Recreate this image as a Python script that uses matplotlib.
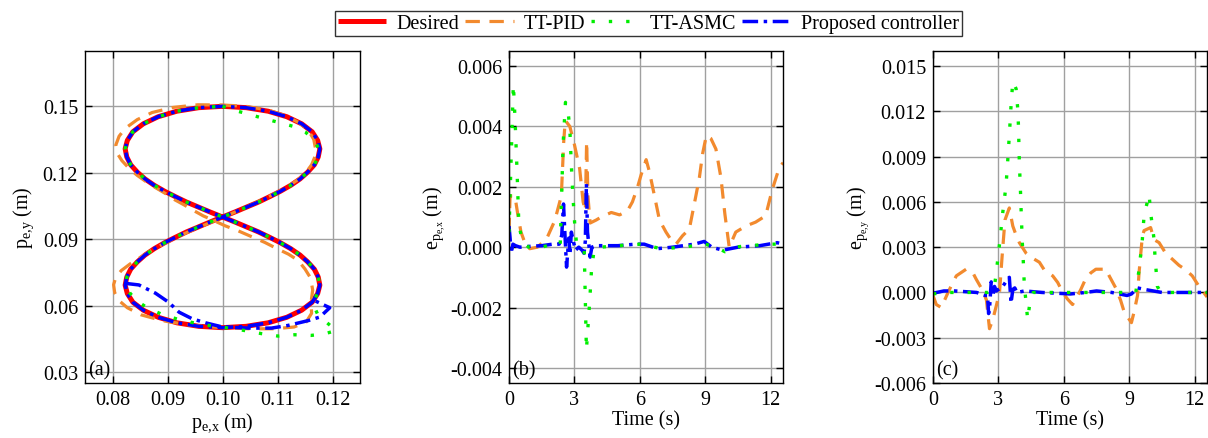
import matplotlib
matplotlib.use("Agg")
import matplotlib.pyplot as plt
from matplotlib.lines import Line2D
from matplotlib.ticker import FormatStrFormatter

plt.rcParams['font.family'] = ['Liberation Serif', 'DejaVu Serif']
plt.rcParams['mathtext.fontset'] = 'custom'
plt.rcParams['mathtext.rm'] = 'Liberation Serif'
plt.rcParams['mathtext.it'] = 'Liberation Serif:italic'
plt.rcParams['axes.unicode_minus'] = False
plt.rcParams['font.size'] = 14.5

# ---------------- data: panel (a) trajectories ----------------
des_x = [0.1000, 0.1043, 0.1083, 0.1117, 0.1144, 0.1163, 0.1173, 0.1177, 0.1174, 0.1167,
         0.1155, 0.1141, 0.1124, 0.1105, 0.1085, 0.1065, 0.1043, 0.1022, 0.1000,
         0.0978, 0.0957, 0.0935, 0.0915, 0.0895, 0.0876, 0.0859, 0.0845, 0.0833,
         0.0826, 0.0823, 0.0827, 0.0837, 0.0856, 0.0883, 0.0917, 0.0957, 0.1000,
         0.1043, 0.1083, 0.1117, 0.1144, 0.1163, 0.1173, 0.1177, 0.1174, 0.1167,
         0.1155, 0.1141, 0.1124, 0.1105, 0.1085, 0.1065, 0.1043, 0.1022, 0.1000,
         0.0978, 0.0957, 0.0935, 0.0915, 0.0895, 0.0876, 0.0859, 0.0845, 0.0833,
         0.0826, 0.0823, 0.0827, 0.0837, 0.0856, 0.0883, 0.0917, 0.0957, 0.1000]
des_y = [0.1500, 0.1494, 0.1478, 0.1453, 0.1421, 0.1385, 0.1346, 0.1308, 0.1271, 0.1236,
         0.1203, 0.1172, 0.1143, 0.1116, 0.1091, 0.1067, 0.1044, 0.1022, 0.1000,
         0.0978, 0.0956, 0.0933, 0.0909, 0.0884, 0.0857, 0.0828, 0.0797, 0.0764,
         0.0729, 0.0692, 0.0654, 0.0615, 0.0579, 0.0547, 0.0522, 0.0506, 0.0500,
         0.0506, 0.0522, 0.0547, 0.0579, 0.0615, 0.0654, 0.0692, 0.0729, 0.0764,
         0.0797, 0.0828, 0.0857, 0.0884, 0.0909, 0.0933, 0.0956, 0.0978, 0.1000,
         0.1022, 0.1044, 0.1067, 0.1091, 0.1116, 0.1143, 0.1172, 0.1203, 0.1236,
         0.1271, 0.1308, 0.1346, 0.1385, 0.1421, 0.1453, 0.1478, 0.1494, 0.1500]

pid_x = [0.1000, 0.1043, 0.1083, 0.1115, 0.1140, 0.1157, 0.1166, 0.1169, 0.1168, 0.1162,
         0.1152, 0.1138, 0.1120, 0.1100, 0.1080, 0.1059, 0.1038, 0.1017, 0.0996,
         0.0975, 0.0953, 0.0931, 0.0910, 0.0889, 0.0869, 0.0850, 0.0832, 0.0816,
         0.0806, 0.0802, 0.0804, 0.0812, 0.0827, 0.0852, 0.0890, 0.0945, 0.1000,
         0.1050, 0.1095, 0.1130, 0.1152, 0.1162, 0.1161, 0.1164, 0.1160, 0.1150,
         0.1137, 0.1120, 0.1100, 0.1077, 0.1053, 0.1029, 0.1005, 0.0985, 0.0965,
         0.0947, 0.0930, 0.0913, 0.0897, 0.0880, 0.0862, 0.0845, 0.0830, 0.0817,
         0.0808, 0.0806, 0.0812, 0.0823, 0.0845, 0.0872, 0.0910, 0.0955, 0.1000]
pid_y = [0.1506, 0.1500, 0.1483, 0.1457, 0.1425, 0.1388, 0.1350, 0.1310, 0.1272, 0.1236,
         0.1202, 0.1170, 0.1140, 0.1112, 0.1087, 0.1062, 0.1039, 0.1016, 0.0994,
         0.0972, 0.0949, 0.0925, 0.0900, 0.0874, 0.0846, 0.0817, 0.0788, 0.0758,
         0.0728, 0.0694, 0.0658, 0.0622, 0.0590, 0.0558, 0.0532, 0.0510, 0.0500,
         0.0495, 0.0495, 0.0503, 0.0525, 0.0565, 0.0615, 0.0670, 0.0725, 0.0765,
         0.0805, 0.0832, 0.0856, 0.0885, 0.0911, 0.0937, 0.0960, 0.0983, 0.1005,
         0.1030, 0.1055, 0.1078, 0.1105, 0.1130, 0.1158, 0.1188, 0.1220, 0.1255,
         0.1290, 0.1325, 0.1365, 0.1400, 0.1440, 0.1472, 0.1495, 0.1507, 0.1506]

# TT-ASMC deviating pieces (top-right corner cut, bottom-right excursion)
asmc_top_x = [0.1000, 0.1023, 0.1050, 0.1075, 0.1101, 0.1128, 0.1151, 0.1168, 0.1176]
asmc_top_y = [0.1500, 0.1481, 0.1463, 0.1445, 0.1428, 0.1410, 0.1383, 0.1345, 0.1300]
asmc_bot_x = [0.0826, 0.0832, 0.0845, 0.0863, 0.0890, 0.0920, 0.0960, 0.1000, 0.1029,
              0.1071, 0.1101, 0.1131, 0.1161, 0.1185, 0.1207, 0.1192, 0.1174, 0.1165, 0.1170]
asmc_bot_y = [0.0690, 0.0655, 0.0620, 0.0590, 0.0560, 0.0537, 0.0515, 0.0502, 0.0492,
              0.0473, 0.0462, 0.0468, 0.0465, 0.0472, 0.0487, 0.0518, 0.0555, 0.0605, 0.0640]

# Proposed controller initial transient
prop_tr_x = [0.0824, 0.0848, 0.0878, 0.0902, 0.0921, 0.0945, 0.0969, 0.1000, 0.1047,
             0.1089, 0.1119, 0.1156, 0.1177, 0.1195, 0.1165]
prop_tr_y = [0.0700, 0.0693, 0.0656, 0.0615, 0.0570, 0.0540, 0.0522, 0.0503, 0.0498,
             0.0498, 0.0510, 0.0532, 0.0548, 0.0590, 0.0625]

# ---------------- data: panel (b) x-errors ----------------
bx_pid_t = [0.00, 0.05, 0.27, 0.40, 0.55, 0.75, 0.95, 1.30, 1.72, 2.10, 2.40, 2.51, 2.58,
            2.79, 3.00, 3.24, 3.40, 3.50, 3.56, 3.62, 3.72, 4.00, 4.23, 4.69, 5.07, 5.43,
            5.66, 5.90, 6.06, 6.29, 6.44, 6.70, 6.90, 7.20, 7.50, 7.66, 7.96, 8.27, 8.57,
            8.73, 8.88, 9.05, 9.26, 9.49, 9.72, 9.90, 10.10, 10.40, 10.86, 11.31, 11.77,
            12.07, 12.38, 12.57]
bx_pid_e = [0.0005, 0.0017, 0.0017, 0.0011, 0.0005, 0.0001, -0.00005, 0.0000, 0.00027,
            0.00088, 0.0017, 0.0035, 0.0042, 0.0040, 0.0034, 0.0026, 0.0015, 0.0012,
            0.0035, 0.0017, 0.0008, 0.0009, 0.0010, 0.00115, 0.00107, 0.0012, 0.0015,
            0.0020, 0.0024, 0.0029, 0.0025, 0.0016, 0.0009, 0.0005, 0.00017, 0.0001,
            0.00038, 0.0006, 0.0017, 0.0023, 0.0031, 0.0037, 0.0036, 0.00325, 0.0023,
            0.0011, 0.0000, 0.0005, 0.0007, 0.00083, 0.00104, 0.0019, 0.0026, 0.0028]
bx_asmc_t = [0.00, 0.08, 0.20, 0.28, 0.37, 0.45, 0.60, 0.90, 1.50, 2.00, 2.35, 2.48, 2.59,
             2.71, 2.79, 2.86, 2.94, 3.02, 3.10, 3.30, 3.45, 3.55, 3.70, 3.78, 3.90, 4.20,
             5.00, 6.00, 7.00, 8.00, 9.00, 9.50, 9.90, 10.30, 11.00, 12.00, 12.57]
bx_asmc_e = [0.0005, 0.0025, 0.0054, 0.0042, 0.0025, 0.0008, 0.0002, 0.0000, 0.0000,
             0.0001, 0.0001, 0.0034, 0.0048, 0.0045, 0.0039, 0.0027, 0.0016, 0.0007,
             0.0001, 0.0000, -0.0001, -0.0034, -0.0018, -0.0008, -0.0001, 0.0000,
             0.00005, 0.0001, -0.00005, 0.0000, 0.0001, 0.0000, -0.00015, 0.0000,
             0.00005, 0.0001, 0.0001]
bx_prop_t = [0.00, 0.05, 0.10, 0.18, 0.30, 0.50, 1.00, 1.50, 2.00, 2.30, 2.42, 2.50, 2.56,
             2.64, 2.68, 2.74, 2.80, 2.86, 2.95, 3.05, 3.20, 3.35, 3.44, 3.50, 3.55, 3.60,
             3.66, 3.72, 3.80, 4.00, 5.00, 5.80, 6.20, 6.80, 7.50, 8.50, 8.95, 9.30, 9.80,
             10.50, 11.50, 12.30, 12.57]
bx_prop_e = [0.0007, 0.0003, -0.0002, 0.0001, 0.00005, 0.0000, 0.00003, 0.00005, 0.0001,
             0.0001, 0.0004, 0.00143, 0.0005, -0.00066, -0.0003, 0.0003, -0.0002, 0.0005,
             0.0002, -0.0001, 0.0000, -0.0001, -0.0002, 0.0002, 0.0021, 0.0005, 0.0001,
             -0.00033, 0.0000, 0.00005, 0.00005, 0.0001, 0.0001, -0.00005, 0.0000, 0.0001,
             0.00019, 0.0000, -0.0001, 0.0000, 0.00005, 0.00015, 0.0001]

# ---------------- data: panel (c) y-errors ----------------
cy_pid_t = [0.00, 0.15, 0.38, 0.69, 0.91, 1.07, 1.52, 1.83, 1.98, 2.29, 2.45, 2.59, 2.74,
            2.90, 3.05, 3.17, 3.30, 3.50, 3.66, 3.81, 3.96, 4.27, 4.42, 4.88, 5.10, 5.49,
            5.72, 5.95, 6.17, 6.40, 6.55, 6.78, 7.00, 7.24, 7.47, 7.93, 8.08, 8.38, 8.60,
            8.77, 9.10, 9.22, 9.38, 9.45, 9.53, 9.60, 9.68, 9.98, 10.14, 10.37, 10.67,
            10.98, 11.28, 11.59, 11.89, 12.20, 12.57]
cy_pid_e = [-0.0002, -0.0008, -0.0010, 0.0000, 0.00066, 0.0011, 0.00154, 0.0013, 0.00088,
            0.0001, -0.0005, -0.0024, -0.0018, -0.0009, 0.0000, 0.0024, 0.0048, 0.0056,
            0.0044, 0.0038, 0.0033, 0.0026, 0.0024, 0.0020, 0.0015, 0.0011, 0.00066,
            0.0000, -0.00044, -0.0008, -0.00044, 0.0002, 0.0009, 0.0013, 0.00154, 0.00154,
            0.0011, 0.0003, -0.0005, -0.0013, -0.0020, -0.0013, -0.0002, 0.0013, 0.0026,
            0.0037, 0.0041, 0.0043, 0.0035, 0.0033, 0.0026, 0.0022, 0.0018, 0.0015,
            0.0011, 0.0004, -0.0003]
cy_asmc_t = [0.00, 0.50, 1.00, 1.50, 2.00, 2.50, 2.80, 2.90, 3.05, 3.20, 3.35, 3.43, 3.50,
             3.58, 3.66, 3.81, 3.89, 3.92, 3.96, 4.01, 4.04, 4.09, 4.15, 4.19, 4.27, 4.34,
             4.45, 4.60, 5.50, 6.50, 7.50, 8.50, 9.30, 9.45, 9.60, 9.68, 9.83, 9.91, 9.98,
             10.06, 10.14, 10.18, 10.24, 10.29, 10.45, 11.00, 12.00, 12.57]
cy_asmc_e = [-0.0001, 0.0000, 0.0000, 0.0000, 0.0000, 0.0000, 0.0002, 0.0013, 0.0032,
             0.0053, 0.0071, 0.0088, 0.0104, 0.0124, 0.0140, 0.0135, 0.0121, 0.0110,
             0.0086, 0.0068, 0.0055, 0.0035, 0.0018, 0.0004, -0.00066, -0.0018, -0.0006,
             0.0000, 0.0000, 0.0000, 0.0000, 0.0000, 0.0000, 0.0015, 0.0035, 0.0051,
             0.0060, 0.0065, 0.0053, 0.0044, 0.0035, 0.0024, 0.0013, 0.0004, 0.0000,
             0.0000, 0.0000, 0.0000]
cy_prop_t = [0.00, 0.50, 1.00, 1.50, 2.00, 2.40, 2.50, 2.55, 2.60, 2.67, 2.75, 2.82, 2.90,
             3.00, 3.20, 3.43, 3.50, 3.58, 3.66, 3.75, 3.85, 4.20, 5.00, 6.30, 7.00, 7.50,
             8.20, 8.90, 9.10, 9.38, 9.70, 10.50, 11.50, 12.57]
cy_prop_e = [-0.00005, 0.0001, 0.0001, 0.00005, 0.0000, -0.0002, -0.0002, -0.0014, -0.0009,
             0.0007, -0.0002, 0.0004, 0.0001, 0.0002, 0.0004, 0.0009, 0.0010, -0.0007,
             0.0002, 0.0003, 0.0000, 0.0001, 0.0000, -0.0001, 0.0000, 0.0001, 0.0000,
             -0.0002, -0.0001, 0.0003, 0.0002, 0.0000, 0.0000, 0.0000]

labels = ['Desired', 'TT-PID', 'TT-ASMC', 'Proposed controller']
a_xticks = [0.08, 0.09, 0.10, 0.11, 0.12]
a_yticks = [0.03, 0.06, 0.09, 0.12, 0.15]
t_ticks = [0, 3, 6, 9, 12]
b_yticks = [-0.004, -0.002, 0.000, 0.002, 0.004, 0.006]
c_yticks = [-0.006, -0.003, 0.000, 0.003, 0.006, 0.009, 0.012, 0.015]

# tracked paths built from the read pieces (ASMC & proposed lie on the desired path elsewhere)
asmc_x = asmc_top_x + des_x[8:29] + asmc_bot_x + des_x[43:]
asmc_y = asmc_top_y + des_y[8:29] + asmc_bot_y + des_y[43:]
prop_x = prop_tr_x + des_x[42:] + des_x[1:43]
prop_y = prop_tr_y + des_y[42:] + des_y[1:43]

# ---------------- styles ----------------
RED = '#ff0000'
ORANGE = '#f28a2e'
GREEN = '#00ee00'
BLUE = '#0000ff'
st_des = dict(color=RED, lw=3.6, solid_capstyle='butt', solid_joinstyle='round', zorder=2)
st_pid = dict(color=ORANGE, lw=2.3, dashes=(4.5, 3.0), zorder=3)
st_prop = dict(color=BLUE, lw=2.5, dashes=(4.5, 1.6, 1.0, 1.6), zorder=4)
st_asmc = dict(color=GREEN, lw=2.4, dashes=(1.0, 4.2), zorder=5)

fig = plt.figure(figsize=(12.08, 4.39), dpi=100)
W, H = 1208.0, 439.0
def add_ax(x0, x1, y0, y1):
    return fig.add_axes([x0 / W, 1 - y1 / H, (x1 - x0) / W, (y1 - y0) / H])

axa = add_ax(85, 360, 52, 384)
axb = add_ax(509, 783, 52, 384)
axc = add_ax(933, 1207, 52, 384)

for ax in (axa, axb, axc):
    ax.grid(True, color='#a0a0a0', lw=1.0, zorder=0)
    ax.set_axisbelow(True)
    ax.tick_params(direction='in', top=True, right=True, length=5, width=1,
                   labelsize=14.5, pad=5)
    for s in ax.spines.values():
        s.set_linewidth(1.0)
        s.set_zorder(6)

# panel a
axa.plot(des_x, des_y, **st_des)
axa.plot(pid_x, pid_y, **st_pid)
axa.plot(prop_x, prop_y, **st_prop)
axa.plot(asmc_x, asmc_y, **st_asmc)
axa.set_xlim(0.075, 0.125)
axa.set_ylim(0.025, 0.175)
axa.set_xticks(a_xticks)
axa.set_yticks(a_yticks)
axa.xaxis.set_major_formatter(FormatStrFormatter('%.2f'))
axa.yaxis.set_major_formatter(FormatStrFormatter('%.2f'))
axa.set_xlabel(r'$\mathrm{p}_{\mathrm{e{,}x}}$ (m)', labelpad=1)
axa.set_ylabel(r'$\mathrm{p}_{\mathrm{e{,}y}}$ (m)', labelpad=5)
axa.text(0.012, 0.012, '(a)', transform=axa.transAxes, ha='left', va='bottom', fontsize=14.5)

# panel b
axb.plot(bx_pid_t, bx_pid_e, **st_pid)
axb.plot(bx_prop_t, bx_prop_e, **st_prop)
axb.plot(bx_asmc_t, bx_asmc_e, **st_asmc)
axb.set_xlim(0, 12.566)
axb.set_ylim(-0.0045, 0.0065)
axb.set_xticks(t_ticks)
axb.set_yticks(b_yticks)
axb.yaxis.set_major_formatter(FormatStrFormatter('%.3f'))
axb.set_xlabel('Time (s)', labelpad=1)
axb.set_ylabel(r'$\mathrm{e}_{\mathrm{p}_{\mathrm{e{,}x}}}$ (m)', labelpad=2)
axb.text(0.012, 0.012, '(b)', transform=axb.transAxes, ha='left', va='bottom', fontsize=14.5)

# panel c
axc.plot(cy_pid_t, cy_pid_e, **st_pid)
axc.plot(cy_prop_t, cy_prop_e, **st_prop)
axc.plot(cy_asmc_t, cy_asmc_e, **st_asmc)
axc.set_xlim(0, 12.566)
axc.set_ylim(-0.006, 0.016)
axc.set_xticks(t_ticks)
axc.set_yticks(c_yticks)
axc.yaxis.set_major_formatter(FormatStrFormatter('%.3f'))
axc.set_xlabel('Time (s)', labelpad=1)
axc.set_ylabel(r'$\mathrm{e}_{\mathrm{p}_{\mathrm{e{,}y}}}$ (m)', labelpad=2)
axc.text(0.012, 0.012, '(c)', transform=axc.transAxes, ha='left', va='bottom', fontsize=14.5)

handles = [Line2D([], [], **{k: v for k, v in st_des.items() if k != 'zorder'}),
           Line2D([], [], **{k: v for k, v in st_pid.items() if k != 'zorder'}),
           Line2D([], [], **{k: v for k, v in st_asmc.items() if k != 'zorder'}),
           Line2D([], [], **{k: v for k, v in st_prop.items() if k != 'zorder'})]
leg = fig.legend(handles, labels, ncol=4, loc='upper center',
                 bbox_to_anchor=(648.4 / W, 1 - 11.5 / H), frameon=True, fancybox=False,
                 edgecolor='black', fontsize=14.5, handlelength=2.4, handletextpad=0.5,
                 columnspacing=0.3, borderpad=0.15, borderaxespad=0.0)
leg.get_frame().set_linewidth(1.0)

fig.savefig('out.png', dpi=100)
